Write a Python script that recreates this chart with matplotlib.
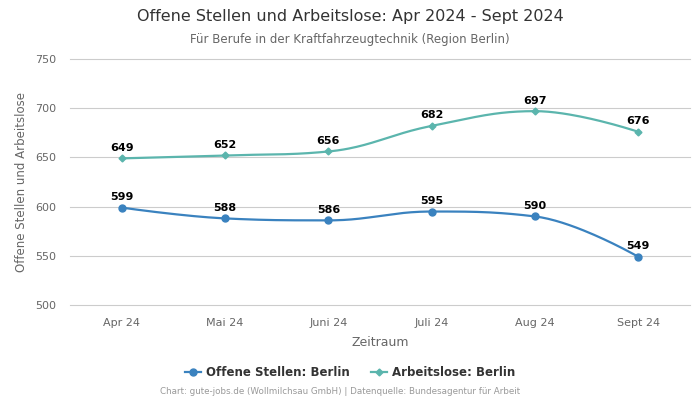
import numpy as np
import matplotlib
matplotlib.use("Agg")
import matplotlib.pyplot as plt

months = ["Apr 24", "Mai 24", "Juni 24", "Juli 24", "Aug 24", "Sept 24"]
offene_stellen = [599, 588, 586, 595, 590, 549]
arbeitslose = [649, 652, 656, 682, 697, 676]

BLUE = "#3a82bf"
TEAL = "#5bb5ad"


def spline_path(xs, ys, steps=40):
    # Highcharts-like spline: cubic bezier with smoothing 1.5
    n = len(xs)
    left = [None] * n
    right = [None] * n
    sm, den = 1.5, 2.5
    for i in range(1, n - 1):
        px, py = xs[i], ys[i]
        lx, ly = xs[i - 1], ys[i - 1]
        nx, ny = xs[i + 1], ys[i + 1]
        lcx = (sm * px + lx) / den
        lcy = (sm * py + ly) / den
        rcx = (sm * px + nx) / den
        rcy = (sm * py + ny) / den
        corr = ((rcy - lcy) * (rcx - px)) / (rcx - lcx) + py - rcy
        lcy += corr
        rcy += corr
        if lcy > ly and lcy > py:
            lcy = max(ly, py)
            rcy = 2 * py - lcy
        elif lcy < ly and lcy < py:
            lcy = min(ly, py)
            rcy = 2 * py - lcy
        if rcy > ny and rcy > py:
            rcy = max(ny, py)
            lcy = 2 * py - rcy
        elif rcy < ny and rcy < py:
            rcy = min(ny, py)
            lcy = 2 * py - rcy
        left[i] = (lcx, lcy)
        right[i] = (rcx, rcy)
    t = np.linspace(0, 1, steps)
    out_x, out_y = [], []
    for i in range(1, n):
        p0 = (xs[i - 1], ys[i - 1])
        p1 = right[i - 1] or p0
        p3 = (xs[i], ys[i])
        p2 = left[i] or p3
        bx = (1 - t) ** 3 * p0[0] + 3 * (1 - t) ** 2 * t * p1[0] + 3 * (1 - t) * t ** 2 * p2[0] + t ** 3 * p3[0]
        by = (1 - t) ** 3 * p0[1] + 3 * (1 - t) ** 2 * t * p1[1] + 3 * (1 - t) * t ** 2 * p2[1] + t ** 3 * p3[1]
        out_x.extend(bx)
        out_y.extend(by)
    return out_x, out_y


fig = plt.figure(figsize=(7, 4), dpi=100)
ax = fig.add_axes([0.1, 0.2375, 0.8857, 0.615])

x = np.arange(len(months))

for vals, color, marker, ms, label in [
    (offene_stellen, BLUE, "o", 5, "Offene Stellen: Berlin"),
    (arbeitslose, TEAL, "D", 3.5, "Arbeitslose: Berlin"),
]:
    sx, sy = spline_path(list(x), vals)
    ax.plot(sx, sy, color=color, lw=1.6, zorder=3)
    ax.plot(x, vals, linestyle="none", marker=marker, ms=ms, color=color, zorder=4)
    ax.plot([], [], color=color, marker=marker, ms=ms, lw=1.6, label=label)
    for xi, v in zip(x, vals):
        ax.annotate(str(v), (xi, v), xytext=(0, 4), textcoords="offset points",
                    ha="center", va="bottom", fontsize=8, fontweight="bold", color="#000000")

ax.set_xlim(-0.5, len(months) - 0.5)
ax.set_ylim(500, 750)
ax.set_yticks(range(500, 751, 50))
ax.set_xticks(x)
ax.set_xticklabels(months)
ax.grid(axis="y", color="#cccccc", lw=0.8)
for gl in ax.get_ygridlines():
    gl.set_clip_on(False)
ax.set_axisbelow(True)
for s in ax.spines.values():
    s.set_visible(False)
ax.tick_params(axis="both", length=0, labelsize=8, labelcolor="#666666")
ax.tick_params(axis="x", pad=9)
ax.tick_params(axis="y", pad=10)

ax.set_xlabel("Zeitraum", fontsize=9, color="#666666", labelpad=6)
ax.set_ylabel("Offene Stellen und Arbeitslose", fontsize=8.5, color="#666666", labelpad=5)

fig.text(0.5, 1 - 17 / 400, "Offene Stellen und Arbeitslose: Apr 2024 - Sept 2024",
         ha="center", va="center", fontsize=11.5, color="#333333")
fig.text(0.5, 1 - 39 / 400, "Für Berufe in der Kraftfahrzeugtechnik (Region Berlin)",
         ha="center", va="center", fontsize=8.5, color="#666666")

leg = fig.legend(loc="center", bbox_to_anchor=(0.5, 1 - 373 / 400), ncol=2, frameon=False,
                 prop={"size": 8.5, "weight": "bold"}, handlelength=1.4, columnspacing=1.8,
                 handletextpad=0.4)
for t in leg.get_texts():
    t.set_color("#333333")

fig.text(340 / 700, 1 - 392 / 400,
         "Chart: gute-jobs.de (Wollmilchsau GmbH) | Datenquelle: Bundesagentur für Arbeit",
         ha="center", va="center", fontsize=6.3, color="#999999")

fig.savefig("out.png", dpi=100)
